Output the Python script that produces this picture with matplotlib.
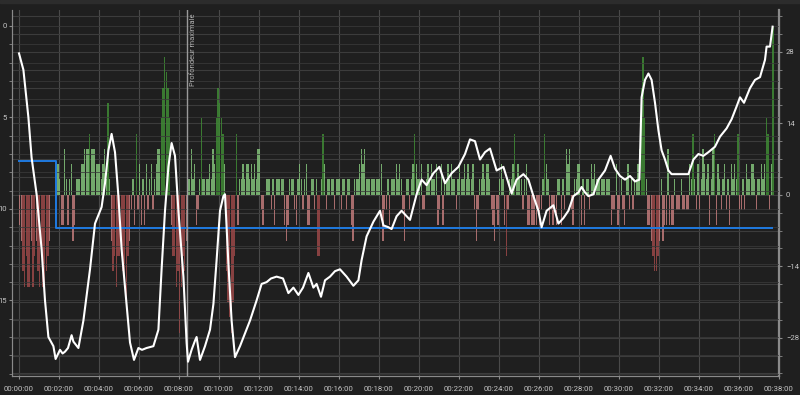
import numpy as np
import matplotlib
matplotlib.use('Agg')
import matplotlib.pyplot as plt
from matplotlib.ticker import FuncFormatter, MultipleLocator

# depth profile: time (min) / depth (m)
depth_t = [0.0, 0.22, 0.47, 0.63, 0.88, 1.13, 1.30, 1.47, 1.72, 1.83, 2.05, 2.18, 2.30,
           2.45, 2.63, 2.72, 2.97, 3.22, 3.55, 3.80, 4.13, 4.30, 4.47, 4.63, 4.80, 4.97,
           5.13, 5.38, 5.55, 5.75, 5.97, 6.15, 6.38, 6.72, 6.97, 7.13, 7.30, 7.47, 7.63,
           7.80, 7.97, 8.22, 8.38, 8.45, 8.63, 8.80, 8.88, 9.05, 9.30, 9.55, 9.72, 9.88,
           10.05, 10.22, 10.30, 10.47, 10.63, 10.80, 11.05, 11.55, 11.88, 12.13, 12.38,
           12.60, 12.88, 13.20, 13.47, 13.72, 13.97, 14.20, 14.47, 14.72, 14.88, 15.10,
           15.30, 15.55, 15.80, 16.05, 16.38, 16.72, 16.97, 17.13, 17.38, 17.72, 18.05,
           18.22, 18.47, 18.63, 18.88, 19.13, 19.55, 19.88, 20.13, 20.38, 20.72, 21.02,
           21.30, 21.63, 21.97, 22.30, 22.55, 22.80, 23.05, 23.30, 23.55, 23.88, 24.22,
           24.63, 24.88, 25.22, 25.47, 25.72, 25.97, 26.13, 26.38, 26.72, 26.97, 27.22,
           27.47, 27.72, 27.97, 28.13, 28.30, 28.47, 28.72, 28.97, 29.30, 29.58, 29.80,
           30.05, 30.30, 30.55, 30.80, 31.02, 31.13, 31.30, 31.47, 31.63, 31.80, 31.97,
           32.13, 32.30, 32.47, 32.63, 32.88, 33.22, 33.47, 33.72, 33.97, 34.22, 34.47,
           34.80, 35.05, 35.38, 35.63, 35.88, 36.05, 36.25, 36.55, 36.80, 37.05, 37.30,
           37.38, 37.55, 37.68]
depth_m = [1.5, 2.4, 5.0, 7.2, 9.2, 12.2, 15.0, 17.0, 17.5, 18.2, 17.7, 17.9, 17.8,
           17.6, 16.9, 17.25, 17.6, 16.1, 13.3, 10.8, 9.9, 8.6, 6.8, 5.9, 6.9, 9.3,
           12.2, 15.2, 17.3, 18.25, 17.6, 17.7, 17.6, 17.5, 16.6, 13.3, 10.1, 7.7, 6.4,
           7.1, 10.1, 13.7, 17.3, 18.35, 17.7, 17.2, 17.0, 18.25, 17.5, 16.6, 15.2, 12.8,
           10.1, 9.3, 9.2, 13.0, 16.1, 18.1, 17.5, 16.1, 15.0, 14.1, 14.0,
           13.8, 13.7, 13.8, 14.6, 14.3, 14.7, 14.3, 13.5, 14.3, 14.1, 14.8,
           13.9, 13.7, 13.4, 13.3, 13.7, 14.2, 13.9, 12.8, 11.5, 10.7, 10.1,
           10.9, 11.0, 11.1, 10.4, 10.1, 10.6, 9.2, 8.4, 8.7, 8.05, 7.7,
           8.6, 8.05, 7.7, 7.0, 6.2, 6.3, 7.3, 6.9, 6.7, 7.9, 7.7,
           9.15, 8.4, 8.1, 8.4, 9.3, 10.1, 11.0, 10.1, 9.8, 10.8, 10.5,
           10.1, 9.3, 9.1, 8.8, 9.1, 9.3, 9.2, 8.4, 7.9, 7.1, 7.8,
           8.2, 8.4, 8.2, 8.5, 8.4, 3.9, 2.95, 2.6, 2.95, 4.2, 5.7,
           6.8, 7.3, 7.9, 8.1, 8.1, 8.1, 8.1, 7.3, 7.0, 7.1, 6.9,
           6.6, 6.05, 5.6, 5.1, 4.4, 3.9, 4.2, 3.4, 2.95, 2.8, 1.85,
           1.13, 1.13, 0.04]

# vertical speed, one value every 5 s, in steps of 3 (one row per minute)
speed_levels = [
    -2, -3, -5, -6, -4, -6, -6, -3, -6, -4, -3, -5,
    -6, -4, -6, -7, -5, -4, -3, 0, 0, 0, 0, 2,
    1, -2, -2, 3, 1, -2, 1, 2, -3, -2, 1, 1,
    1, 2, 2, 3, 3, 3, 4, 3, 3, 3, 2, 2,
    2, 1, 2, 3, 1, 6, 1, -3, -5, -4, -6, -4,
    -4, -4, -5, -6, -7, -4, -3, -1, 1, -2, 4, -1,
    2, -2, 1, -2, 2, -1, 1, 2, -1, 1, 2, 3,
    3, 5, 7, 9, 8, 7, 5, -2, -4, -4, -6, -5,
    -9, -6, -4, -5, -3, 1, 1, 3, 1, 2, -2, -1,
    1, 5, 1, 1, 1, 1, 2, 1, 3, 2, 5, 7,
    6, 5, 4, 2, -5, -7, -8, -9, -7, -4, 4, -2,
    1, 1, 2, 1, 2, 2, 1, 2, 1, 2, 1, 3,
    3, -1, -2, 0, 1, 1, 1, -1, 1, -2, 1, 1,
    1, 1, 1, -2, -3, -2, 1, 1, 1, -1, -2, 1,
    2, 1, -1, 1, 2, -2, -2, 1, 1, -1, 1, -4,
    -4, 1, 4, 2, -1, 1, 1, 1, 1, -1, 1, 1,
    1, -1, 1, 1, -1, 1, 1, -2, -3, 1, 1, 1,
    2, 3, 2, 3, 1, 1, 1, 1, 1, 1, 1, 1,
    1, 2, -3, -1, -1, 1, -2, 1, 1, 1, 2, 1,
    2, 1, -1, -3, 1, 1, -1, 1, 2, 4, 2, 1,
    1, 2, -1, -1, 1, 2, 1, 2, 1, 1, 2, -2,
    -1, 2, -2, 1, 1, 2, 1, 2, 1, 1, -1, 1,
    2, 1, 1, 2, 1, 2, 1, 1, 2, -1, -3, -1,
    1, 1, 2, 1, 2, 2, 1, -1, -2, -3, -1, -2,
    1, 2, 1, -2, -4, -1, 1, 1, 2, 4, 1, 2,
    1, 1, -1, 1, 2, -2, -2, -2, -2, -2, -2, -1,
    -2, -1, 1, 4, 2, 1, -2, -1, -2, -1, -2, 1,
    1, -2, 1, -1, 3, 2, 3, -1, -2, 1, 1, 2,
    2, -2, 1, -2, 1, 1, -1, 2, 1, 2, 1, 1,
    1, 1, 1, 1, 1, 1, 1, -2, -1, -1, 2, -2,
    -1, 1, -1, -2, 1, 2, -1, 1, -1, 1, 1, 2,
    3, 7, 9, 5, 1, -2, -2, -3, -4, -5, -5, -4,
    -3, 1, -3, -2, -2, 3, -2, -2, -2, 1, -1, -1,
    -1, 1, -1, -1, -1, -1, 2, 1, 4, 1, -1, 2,
    -1, 1, 3, 2, 1, 2, -2, 1, 3, 4, -2, 2,
    1, -1, 1, 2, -1, 1, -2, 2, 1, 2, 1, 4,
    -1, -1, 1, -1, 2, 1, 1, 2, 2, 1, -1, 1,
    1, 2, 1, 2, 5, 4, -1, 2, 11,
]
speed_unit = 3
sample_s = 5

# blue step line (depth, m)
ceiling_t = [0.0, 1.85, 37.63]
ceiling_m = [7.4, 11.05, 11.05]

max_depth_t = 8.42

BG = '#1f1f1f'
TXT = '#c4c4c4'
FONT = 'Roboto'

fig = plt.figure(figsize=(8, 3.95), dpi=100, facecolor=BG)
# light strip along the very top
fig.patches.append(plt.Rectangle((0, 1 - 3 / 395), 1, 3 / 395, transform=fig.transFigure,
                                 color='#2c2c2c', zorder=0))
ax = fig.add_axes([12 / 800, 1 - 376 / 395, 767 / 800, 366 / 395])
ax.set_facecolor(BG)
ax2 = ax.twinx()

# speed bars (right axis)
speed = np.array(speed_levels) * speed_unit
bar_t = np.arange(len(speed)) * sample_s / 60.0
colors = []
for v in speed_levels:
    if v >= 4:
        colors.append('#3f8a35')
    elif v > 0:
        colors.append('#83c27a')
    elif v <= -4:
        colors.append('#9a4848')
    else:
        colors.append('#c07a7a')
ax.bar(bar_t, speed, width=0.85 * sample_s / 60.0, align='edge', color=colors,
       alpha=0.85, linewidth=0, zorder=2)

ax.set_xlim(-0.35, 38.0)
ax.set_ylim(-35.5, 36.2)
ax.yaxis.tick_right()
ax.yaxis.set_major_locator(MultipleLocator(14))
ax.yaxis.set_minor_locator(MultipleLocator(3.5))
ax.xaxis.set_major_locator(MultipleLocator(2))
ax.xaxis.set_major_formatter(FuncFormatter(lambda v, p: f"00:{int(round(v)):02d}:00"))
ax.grid(axis='x', which='major', color='#4a4a4a', linewidth=0.8, zorder=0)
ax.grid(axis='y', which='both', color='#3c3c3c', linewidth=0.8, zorder=0)
ax.set_axisbelow(True)

# depth (left axis)
ax2.plot(depth_t, depth_m, color='white', linewidth=1.5, zorder=4)
ax2.plot(ceiling_t, ceiling_m, drawstyle='steps-post', color='#1f7ae0',
         linewidth=1.4, zorder=3)
ax2.axvline(max_depth_t, color='#9a9a9a', linewidth=1.0, zorder=3)
ax2.text(max_depth_t + 0.12, -0.7, 'Profondeur maximale', rotation=90,
         ha='left', va='top', fontsize=5.4, color='#b0b0b0', family=FONT)
ax2.set_ylim(19.13, -0.87)
ax2.yaxis.tick_left()
ax2.yaxis.set_major_locator(MultipleLocator(5))
ax2.yaxis.set_minor_locator(MultipleLocator(1))
ax2.grid(axis='y', which='both', color='#3a3a3a', linewidth=0.7, alpha=0.8)

for a in (ax, ax2):
    for s in a.spines.values():
        s.set_color('#8a8a8a')
    a.spines['top'].set_visible(False)
    a.tick_params(colors='#8a8a8a', labelcolor=TXT, labelsize=5.6, length=2,
                  which='both')
    for lbl in a.get_xticklabels() + a.get_yticklabels():
        lbl.set_family(FONT)
ax.spines['right'].set_linewidth(1.6)
ax.tick_params(axis='y', pad=3)
ax2.tick_params(axis='y', pad=1.5)
ax.tick_params(axis='x', pad=5)

plt.savefig('out.png', dpi=100, facecolor=BG)
